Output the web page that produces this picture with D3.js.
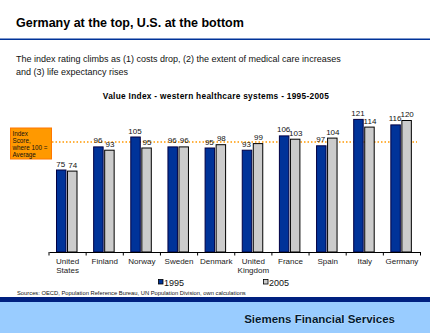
<!DOCTYPE html>
<html>
<head>
<meta charset="utf-8">
<script src="https://cdn.jsdelivr.net/npm/d3@7"></script>
<style>
  body { margin: 0; background: #fff; }
  svg { display: block; font-family: "Liberation Sans", Arial, sans-serif; }
</style>
</head>
<body>
<svg width="430" height="333"></svg>
<script>
var categories = ["United States", "Finland", "Norway", "Sweden", "Denmark",
                  "United Kingdom", "France", "Spain", "Italy", "Germany"];
var series = ["1995", "2005"];
var values1995 = [75, 96, 105, 96, 95, 93, 106, 97, 121, 116];
var values2005 = [74, 93, 95, 96, 98, 99, 103, 104, 114, 120];
var averageLine = 100;

var colors = {"1995": "#003399", "2005": "#cccccc"};
var strokes = {"1995": "#000044", "2005": "#000000"};

var svg = d3.select("svg");

// header
svg.append("text")
  .attr("x", 16).attr("y", 27)
  .attr("font-size", "12.5px").attr("font-weight", "bold")
  .attr("fill", "#000")
  .text("Germany at the top, U.S. at the bottom");

svg.append("rect")
  .attr("x", 0).attr("y", 38.5).attr("width", 430).attr("height", 1.5)
  .attr("fill", "#003399");

svg.append("text")
  .attr("x", 16).attr("y", 61.5)
  .attr("font-size", "9px").attr("fill", "#111")
  .text("The index rating climbs as (1) costs drop, (2) the extent of medical care increases");
svg.append("text")
  .attr("x", 16).attr("y", 75)
  .attr("font-size", "9px").attr("fill", "#111")
  .text("and (3) life expectancy rises");

svg.append("text")
  .attr("x", 216).attr("y", 99)
  .attr("text-anchor", "middle")
  .attr("font-size", "8.3px").attr("font-weight", "bold")
  .attr("letter-spacing", "0.3px")
  .text("Value Index - western healthcare systems - 1995-2005");

// scales
var baseY = 252;
var x = d3.scaleBand().domain(categories).range([49, 420.5]).padding(0);
var x1 = d3.scaleBand().domain(series).range([7, 28.5]).paddingInner(0.05);
var y = d3.scaleLinear().domain([0, 140]).range([baseY, baseY - 154]);

var data = categories.map(function(c, i) {
  return {cat: c, vals: [{s: "1995", v: values1995[i]}, {s: "2005", v: values2005[i]}]};
});

// average line
svg.append("line")
  .attr("x1", 52).attr("x2", 417)
  .attr("y1", y(averageLine)).attr("y2", y(averageLine))
  .attr("stroke", "#ff9900").attr("stroke-width", 1.5)
  .attr("stroke-dasharray", "1.5,2");

// bars
var g = svg.selectAll(".cat").data(data)
  .enter().append("g")
  .attr("class", "cat")
  .attr("transform", function(d) { return "translate(" + x(d.cat) + ",0)"; });

g.selectAll("rect").data(function(d) { return d.vals; })
  .enter().append("rect")
  .attr("x", function(d) { return x1(d.s) + 0.5; })
  .attr("y", function(d) { return y(d.v) + 0.5; })
  .attr("width", x1.bandwidth() - 1)
  .attr("height", function(d) { return baseY - y(d.v) - 0.5; })
  .attr("fill", function(d) { return colors[d.s]; })
  .attr("stroke", function(d) { return strokes[d.s]; })
  .attr("stroke-width", 1);

g.selectAll(".val").data(function(d) { return d.vals; })
  .enter().append("text")
  .attr("class", "val")
  .attr("x", function(d) { return x1(d.s) + x1.bandwidth() / 2 + (d.s === "1995" ? -0.5 : 0.5); })
  .attr("y", function(d) { return y(d.v) - 3; })
  .attr("text-anchor", "middle")
  .attr("font-size", "8px")
  .attr("fill", "#111")
  .text(function(d) { return d.v; });

// axis
var axis = svg.append("g")
  .attr("transform", "translate(0," + baseY + ")")
  .call(d3.axisBottom(x).tickSize(0).tickPadding(6));
axis.select(".domain").attr("stroke", "#000");
axis.selectAll(".tick text")
  .attr("font-size", "8px")
  .attr("font-family", "Liberation Sans, Arial, sans-serif")
  .attr("fill", "#222")
  .each(function(d) {
    var t = d3.select(this);
    if (this.getComputedTextLength() > x.bandwidth() - 2) {
      var words = d.split(" ");
      t.text(null);
      words.forEach(function(w, i) {
        t.append("tspan").attr("x", 0).attr("dy", i === 0 ? "0.71em" : "1.2em").text(w);
      });
      t.attr("dy", null);
    }
  });

var bounds = categories.map(function(c) { return x(c); }).concat([x.range()[1]]);
svg.append("g").selectAll("line").data(bounds)
  .enter().append("line")
  .attr("x1", function(d) { return d; }).attr("x2", function(d) { return d; })
  .attr("y1", baseY).attr("y2", baseY + 3.5)
  .attr("stroke", "#000");

// orange callout
svg.append("rect")
  .attr("x", 10.5).attr("y", 128).attr("width", 41).attr("height", 31)
  .attr("fill", "#ff9900").attr("stroke", "#ff7700");
var callout = ["Index", "Score,", "where 100 =", "Average"];
svg.append("g").selectAll("text").data(callout)
  .enter().append("text")
  .attr("x", 12.5)
  .attr("y", function(d, i) { return 135.5 + i * 7; })
  .attr("font-size", "6.3px")
  .attr("fill", "#111")
  .text(function(d) { return d; });

// legend
var legend = svg.append("g").selectAll("g").data(series)
  .enter().append("g")
  .attr("transform", function(d, i) { return "translate(" + (158 + i * 105) + ",282)"; });
legend.append("rect")
  .attr("x", 0.5).attr("y", -2.5).attr("width", 4.5).attr("height", 4.5)
  .attr("fill", function(d) { return colors[d]; })
  .attr("stroke", "#000").attr("stroke-width", 0.8);
legend.append("text")
  .attr("x", 6).attr("y", 3.5)
  .attr("font-size", "9px").attr("fill", "#111")
  .text(function(d) { return d; });

svg.append("text")
  .attr("x", 17).attr("y", 294.5)
  .attr("font-size", "5.8px").attr("fill", "#111")
  .text("Sources: OECD, Population Reference Bureau, UN Population Division, own calculations");

// footer
svg.append("rect")
  .attr("x", 0).attr("y", 297).attr("width", 430).attr("height", 5)
  .attr("fill", "#002080");
svg.append("rect")
  .attr("x", 0).attr("y", 302).attr("width", 430).attr("height", 31)
  .attr("fill", "#99ccff");
svg.append("text")
  .attr("x", 395).attr("y", 322.5)
  .attr("text-anchor", "end")
  .attr("font-size", "11.5px").attr("font-weight", "bold")
  .attr("fill", "#001a33")
  .attr("stroke", "#ffffff").attr("stroke-width", 0.3).attr("paint-order", "stroke")
  .text("Siemens Financial Services");
</script>
</body>
</html>
